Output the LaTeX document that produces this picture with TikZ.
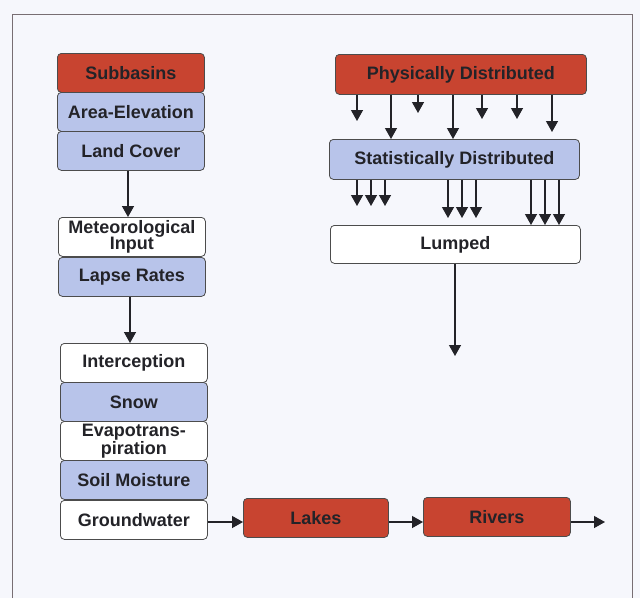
\documentclass[tikz,border=0pt]{standalone}
\usepackage{fontspec}
\setmainfont{Liberation Sans}
\usetikzlibrary{arrows.meta}
\definecolor{bg}{RGB}{246,247,252}
\definecolor{redbox}{RGB}{200,68,48}
\definecolor{bluebox}{RGB}{184,196,234}
\definecolor{frame}{RGB}{120,110,115}
\definecolor{ink}{RGB}{35,35,40}
\tikzset{
  box/.style={draw=black!70, line width=0.8pt, rounded corners=4pt, anchor=north west,
    minimum width=147pt, minimum height=39pt, inner sep=0pt, text=ink,
    font=\fontsize{18}{16.5}\selectfont\bfseries, align=center},
  wbox/.style={box, fill=white},
  bbox/.style={box, fill=bluebox},
  rbox/.style={box, fill=redbox},
  arr/.style={draw=ink, line width=1.3pt, -{Triangle[width=12pt,length=11pt]}},
}
\begin{document}
\begin{tikzpicture}[x=1pt,y=-1pt]
\useasboundingbox (0,0) rectangle (640,598);
\fill[bg] (0,0) rectangle (640,598);
\draw[frame, line width=1pt] (12,598) -- (12,14) -- (632,14) -- (632,598);

% left column
\node[rbox] (sub) at (57,53) {Subbasins};
\node[bbox] (ae) at (57,92) {Area-Elevation};
\node[bbox] (lc) at (57,131) {Land Cover};
\node[wbox] (met) at (58,217) {Meteorological\\Input};
\node[bbox] (lr) at (58,257) {Lapse Rates};
\node[wbox] (int) at (60,343) {Interception};
\node[bbox] (snow) at (60,382) {Snow};
\node[wbox] (evap) at (60,421) {Evapotrans-\\piration};
\node[bbox] (soil) at (60,460) {Soil Moisture};
\node[wbox] (gw) at (60,500) {Groundwater};

% bottom row
\node[rbox, minimum width=145pt] (lakes) at (243,498) {Lakes};
\node[rbox, minimum width=147pt] (rivers) at (423,497) {Rivers};
\coordinate (out) at (605,522);

% right column
\node[rbox, minimum width=251pt, minimum height=40pt] (pd) at (335,54) {Physically Distributed};
\node[bbox, minimum width=250pt, minimum height=40pt] (sd) at (329,139) {Statistically Distributed};
\node[wbox, minimum width=250pt, minimum height=38pt] (lump) at (330,225) {Lumped};
\coordinate (lumpend) at (455,356);

% left arrows
\draw[arr] (lc.south -| 128,0) -- (met.north -| 128,0);
\draw[arr] (lr.south -| 130,0) -- (int.north -| 130,0);
\draw[arr] (gw.east |- 0,522) -- (lakes.west |- 0,522);
\draw[arr] (lakes.east |- 0,522) -- (rivers.west |- 0,522);
\draw[arr] (rivers.east |- 0,522) -- (out);

% physically distributed arrows
\foreach \x/\y in {357/121, 418/113, 482/119, 517/119, 552/132}
  \draw[arr] (pd.south -| \x,0) -- (\x,\y);
\foreach \x in {391, 453}
  \draw[arr] (pd.south -| \x,0) -- (sd.north -| \x,0);

% statistically distributed arrows
\foreach \x in {357, 371, 385}
  \draw[arr] (sd.south -| \x,0) -- (\x,206);
\foreach \x in {448, 462, 476}
  \draw[arr] (sd.south -| \x,0) -- (\x,218);
\foreach \x in {531, 545, 559}
  \draw[arr] (sd.south -| \x,0) -- (lump.north -| \x,0);

\draw[arr] (lump.south -| lumpend) -- (lumpend);
\end{tikzpicture}
\end{document}
